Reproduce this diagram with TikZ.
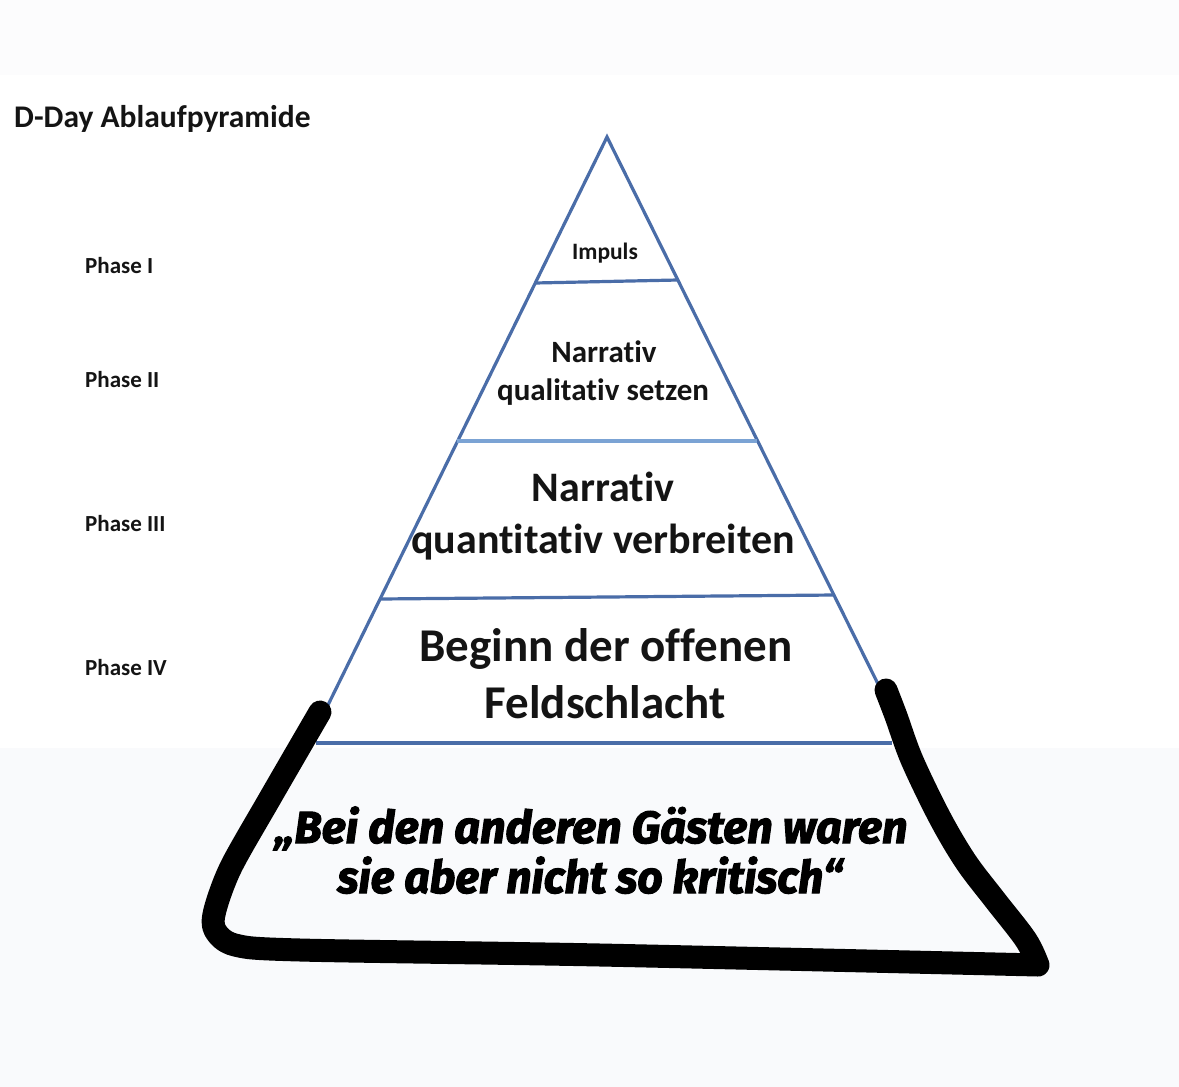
\documentclass[tikz,border=0pt]{standalone}
\usepackage{fontspec}
\usepackage{graphicx}
\setmainfont{Carlito}[Ligatures={NoCommon}]
\newfontfamily\quotefont{Fira Sans}[BoldItalicFeatures={FakeBold=2.5}]
\definecolor{pyblue}{HTML}{4A6DA8}
\definecolor{pylight}{HTML}{7BA3D4}
\definecolor{topband}{HTML}{FCFCFD}
\definecolor{lowband}{HTML}{F9FAFC}
\tikzset{
  side/.style={draw=pyblue, line width=3.2pt},
  level/.style={draw=pyblue, line width=3.2pt},
  levellight/.style={draw=pylight, line width=3.2pt},
  marker/.style={draw=black, line width=23pt, line cap=round, line join=round},
  lbl/.style={anchor=base, inner sep=0pt, text=black!92},
  phase/.style={lbl, anchor=base west, font=\fontsize{23}{27}\selectfont\bfseries},
}
\begin{document}
\begin{tikzpicture}[x=1pt, y=-1pt]
\useasboundingbox (0,0) rectangle (1179,1087);
\fill[white] (0,0) rectangle (1179,1087);
\fill[topband] (0,0) rectangle (1179,75);
\fill[lowband] (0,748) rectangle (1179,1087);

% title and phase labels
\node[lbl, anchor=base west, font=\fontsize{31.5}{36}\selectfont\bfseries] (title) at (14,127) {D-Day Ablaufpyramide};
\node[phase] (p1) at (85,273) {Phase I};
\node[phase] (p2) at (85,387) {Phase II};
\node[phase] (p3) at (85,531) {Phase III};
\node[phase] (p4) at (85,675) {Phase IV};

% pyramid geometry
\coordinate (apex) at (607,137);
\coordinate (l1) at (535,283);
\coordinate (r1) at (678,280);
\coordinate (l2) at (457,441);
\coordinate (r2) at (757,441);
\coordinate (l3) at (380,599);
\coordinate (r3) at (835,595);
\coordinate (lend) at (328,705);
\coordinate (rend) at (880,688);
\coordinate (l4) at (316,743);
\coordinate (r4) at (892,743);

\draw[side, line join=miter] (lend) -- (apex) -- (rend);
\draw[level] (l1) -- (r1);
\draw[levellight] (l2) -- (r2);
\draw[level] (l3) -- (r3);
\draw[level] (l4) -- (r4);

% level texts
\node[lbl, font=\fontsize{23.5}{28}\selectfont\bfseries] (t1) at (605,259) {Impuls};
\node[lbl, font=\fontsize{31}{36}\selectfont\bfseries] (t2a) at (604,362) {Narrativ};
\node[lbl, font=\fontsize{31}{36}\selectfont\bfseries] (t2b) at (603,400) {qualitativ setzen};
\node[lbl, font=\fontsize{42}{48}\selectfont\bfseries] (t3a) at (603,501) {Narrativ};
\node[lbl, font=\fontsize{42}{48}\selectfont\bfseries] (t3b) at (603,553) {quantitativ verbreiten};
\node[lbl, font=\fontsize{47}{54}\selectfont\bfseries] (t4a) at (606,661) {Beginn der offenen};
\node[lbl, font=\fontsize{47}{54}\selectfont\bfseries] (t4b) at (605,718) {Feldschlacht};

% hand-drawn marker
\draw[marker] plot[smooth, tension=0.5] coordinates {(320,712) (269,800) (231,867) (215,910) (215,930) (235,945) (300,950) (600,955) (1038,965)}
  -- plot[smooth, tension=0.55] coordinates {(1038,965) (1026,940) (995,900) (966,862) (940,818) (912,760) (896,716) (886,690)};

% quote
\node[lbl, text=black, font=\quotefont\bfseries\itshape\fontsize{45}{52}\selectfont] (q1) at (591,843) {\resizebox{633pt}{\height}{„Bei den anderen Gästen waren}};
\node[lbl, text=black, font=\quotefont\bfseries\itshape\fontsize{45}{52}\selectfont] (q2) at (590,893) {\resizebox{505pt}{\height}{sie aber nicht so kritisch“}};
\end{tikzpicture}
\end{document}
